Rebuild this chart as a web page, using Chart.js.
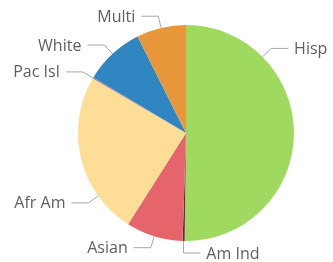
<!DOCTYPE html>
<html>
<head>
<meta charset="utf-8">
<script src="https://cdn.jsdelivr.net/npm/chart.js@4.4.1/dist/chart.umd.min.js"></script>
<style>
  html, body { margin: 0; padding: 0; background: #fff; }
  #wrap { width: 333px; height: 262px; }
</style>
</head>
<body>
<div id="wrap"><canvas id="pie"></canvas></div>
<script>
(function() {
  'use strict';

  var LABELS = ['Hisp', 'Am Ind', 'Asian', 'Afr Am', 'Pac Isl', 'White', 'Multi'];
  var VALUES = [50.2, 0.3, 8.5, 24.4, 0.2, 9.0, 7.4];
  var COLORS = ['#9fd95f', '#6a2a4c', '#e5656a', '#fedd96', '#b57aa8', '#2f86c0', '#e8983a'];

  var TEXT_COLOR = '#5f5f5f';
  var LINE_COLOR = '#a6a6a6';
  var FONT = "16px 'Open Sans', 'Noto Sans', sans-serif";

  // outside labels with elbow lines, anchored on the library's arcs
  var outsideLabels = {
    id: 'outsideLabels',
    afterDatasetsDraw: function(chart) {
      var c = chart.ctx;
      var arcs = chart.getDatasetMeta(0).data;
      c.save();
      c.font = FONT;
      c.textBaseline = 'middle';
      arcs.forEach(function(arc, i) {
        var span = arc.endAngle - arc.startAngle;
        // large slices get their label nearer the leading edge
        var frac = span > Math.PI / 3 ? 0.25 : 0.5;
        var a = arc.startAngle + span * frac;
        var r = arc.outerRadius;
        var ax = arc.x + Math.cos(a) * r;
        var ay = arc.y + Math.sin(a) * r;
        var ex = arc.x + Math.cos(a) * (r + 12);
        var ey = arc.y + Math.sin(a) * (r + 12);
        var right = Math.cos(a) >= 0.001 || (Math.abs(Math.cos(a)) < 0.05 && Math.sin(a) > 0);
        var hx = ex + (right ? 17 : -17);
        c.strokeStyle = LINE_COLOR;
        c.lineWidth = 1;
        c.beginPath();
        c.moveTo(ax, ay);
        c.lineTo(ex, ey);
        c.lineTo(hx, ey);
        c.stroke();
        c.fillStyle = TEXT_COLOR;
        c.textAlign = right ? 'left' : 'right';
        c.fillText(LABELS[i], hx + (right ? 6 : -6), ey + 1);
      });
      c.restore();
    }
  };

  new Chart(document.getElementById('pie'), {
    type: 'pie',
    data: {
      labels: LABELS,
      datasets: [{
        data: VALUES,
        backgroundColor: COLORS,
        borderWidth: 0
      }]
    },
    options: {
      responsive: true,
      maintainAspectRatio: false,
      animation: false,
      layout: { padding: { top: 25, bottom: 21, left: 60, right: 21 } },
      plugins: {
        legend: { display: false },
        tooltip: { enabled: false }
      }
    },
    plugins: [outsideLabels]
  });
})();
</script>
</body>
</html>
